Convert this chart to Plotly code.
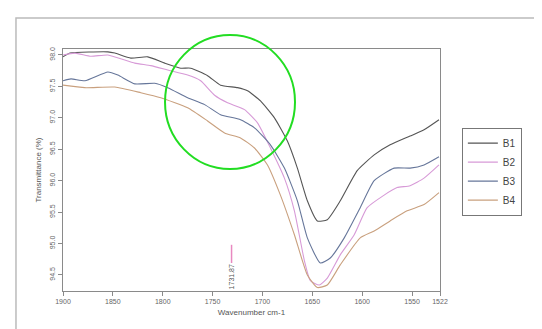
import plotly.graph_objects as go

# ---- data ----
b1_x = [1900, 1893, 1855, 1848, 1832, 1815, 1798, 1782, 1772, 1755, 1742, 1725, 1715, 1702, 1688, 1675, 1665, 1655, 1645, 1635, 1622, 1605, 1588, 1572, 1552, 1538, 1523]
b1_y = [97.97, 98.03, 98.05, 98.03, 97.95, 97.97, 97.87, 97.79, 97.79, 97.67, 97.52, 97.48, 97.43, 97.27, 97.00, 96.63, 96.20, 95.68, 95.36, 95.38, 95.68, 96.16, 96.41, 96.57, 96.71, 96.81, 96.97]

b2_x = [1900, 1888, 1872, 1855, 1828, 1812, 1795, 1775, 1762, 1748, 1735, 1718, 1705, 1692, 1678, 1668, 1658, 1652, 1643, 1635, 1622, 1608, 1595, 1578, 1565, 1552, 1538, 1523]
b2_y = [98.00, 98.03, 97.98, 98.00, 97.87, 97.83, 97.76, 97.68, 97.59, 97.36, 97.24, 97.13, 96.92, 96.52, 96.04, 95.52, 94.73, 94.41, 94.34, 94.45, 94.82, 95.14, 95.57, 95.77, 95.89, 95.92, 96.04, 96.25]

b3_x = [1900, 1892, 1878, 1855, 1845, 1828, 1808, 1795, 1775, 1758, 1742, 1722, 1708, 1692, 1678, 1665, 1655, 1642, 1632, 1618, 1602, 1588, 1568, 1552, 1538, 1523]
b3_y = [97.59, 97.62, 97.59, 97.73, 97.68, 97.54, 97.55, 97.48, 97.32, 97.21, 97.05, 96.97, 96.84, 96.57, 96.20, 95.68, 95.09, 94.69, 94.77, 95.09, 95.57, 96.00, 96.20, 96.20, 96.25, 96.38]

b4_x = [1900, 1878, 1848, 1822, 1802, 1775, 1755, 1738, 1722, 1708, 1695, 1682, 1668, 1655, 1645, 1635, 1622, 1602, 1588, 1572, 1555, 1538, 1523]
b4_y = [97.52, 97.48, 97.49, 97.40, 97.32, 97.16, 96.95, 96.76, 96.68, 96.52, 96.25, 95.77, 95.14, 94.50, 94.30, 94.34, 94.66, 95.09, 95.20, 95.36, 95.52, 95.62, 95.81]

series_names = ["B1", "B2", "B3", "B4"]
series_colors = ["#555555", "#d79ad7", "#66769a", "#c9a07e"]

x_ticks = [1900, 1850, 1800, 1750, 1700, 1650, 1600, 1550, 1522]
x_tick_text = ["1900", "1850", "1800", "1750", "1700", "1650", "1600", "1550", "1522"]
y_ticks = [98.0, 97.5, 97.0, 96.5, 96.0, 95.5, 95.0, 94.5]
y_tick_text = ["98.0", "97.5", "97.0", "96.5", "96.0", "95.5", "95.0", "94.5"]

marker_x = 1731
marker_label = "1731.87"

fig = go.Figure()
for name, color, xs, ys in zip(series_names, series_colors,
                               [b1_x, b2_x, b3_x, b4_x], [b1_y, b2_y, b3_y, b4_y]):
    fig.add_trace(go.Scatter(x=xs, y=ys, mode="lines", name=name,
                             line=dict(color=color, width=1.1, shape="spline", smoothing=0.5)))

# marker line
fig.add_trace(go.Scatter(x=[marker_x, marker_x], y=[94.98, 94.69], mode="lines",
                         line=dict(color="#e889c0", width=1.5), showlegend=False, hoverinfo="skip"))
fig.add_annotation(x=marker_x, y=94.47, text=marker_label, textangle=-90, showarrow=False,
                   font=dict(size=7, color="#555555"))

fig.update_layout(
    width=542, height=329,
    margin=dict(l=55, r=110, t=41, b=46),
    paper_bgcolor="white", plot_bgcolor="white",
    font=dict(family="Liberation Sans, Arial, sans-serif", color="#555555"),
    showlegend=True,
    legend=dict(x=1.058, y=0.675, xanchor="left", yanchor="top",
                bordercolor="#777777", borderwidth=1, bgcolor="white",
                font=dict(size=10, color="#444444"), tracegroupgap=0, itemwidth=30),
    xaxis=dict(range=[1900, 1522], tickvals=x_ticks, ticktext=x_tick_text,
               showgrid=False, zeroline=False, showline=True, mirror=True,
               linecolor="#8a8a8a", linewidth=1, ticks="outside", ticklen=4,
               tickcolor="#8a8a8a", tickfont=dict(size=7, color="#666666"),
               title=dict(text="Wavenumber cm-1", font=dict(size=8, color="#555555"), standoff=4)),
    yaxis=dict(range=[94.245, 98.095], tickvals=y_ticks, ticktext=y_tick_text,
               showgrid=False, zeroline=False, showline=True, mirror=True,
               linecolor="#8a8a8a", linewidth=1, ticks="outside", ticklen=4,
               tickcolor="#8a8a8a", tickangle=-90, tickfont=dict(size=7, color="#666666"),
               title=dict(text="Transmittance (%)", font=dict(size=8, color="#555555"), standoff=6)),
    shapes=[
        dict(type="rect", xref="paper", yref="paper", x0=-0.1247, x1=1.2785, y0=-0.25, y1=1.128,
             line=dict(color="#bbbbbb", width=1.5), layer="below"),
        dict(type="circle", xref="paper", yref="paper", x0=0.2706, x1=0.6154, y0=0.504, y1=1.058,
             line=dict(color="#22dd22", width=2)),
    ],
)

fig.write_html("out.html")
